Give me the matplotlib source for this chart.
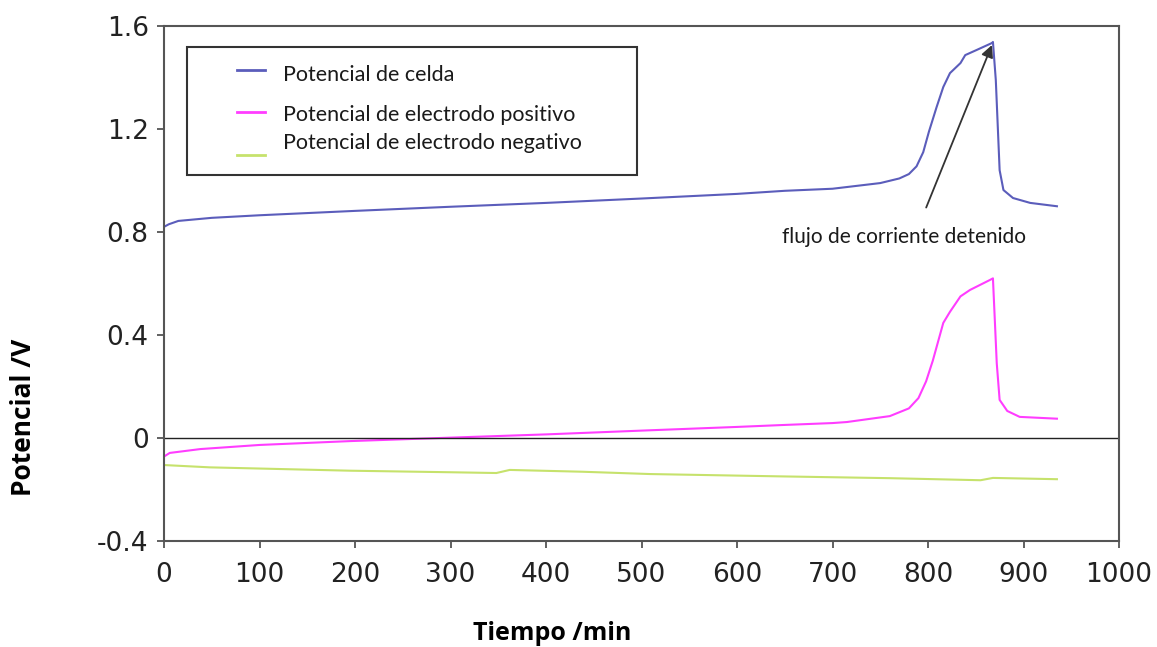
import matplotlib
matplotlib.use("Agg")
import matplotlib.pyplot as plt
from matplotlib.patches import Rectangle
from matplotlib.lines import Line2D

# time (min) and potentials (V)
t_cell = [0, 5, 15, 50, 100, 200, 300, 400, 500, 600, 650, 700, 750, 770, 780,
          788, 795, 801, 809, 816, 823, 834, 839, 851, 867, 868, 871, 875,
          879, 889, 907, 935]
v_cell = [0.82, 0.83, 0.843, 0.855, 0.865, 0.882, 0.898, 0.913, 0.93, 0.948,
          0.96, 0.968, 0.99, 1.008, 1.025, 1.055, 1.11, 1.19, 1.285, 1.363,
          1.417, 1.456, 1.487, 1.507, 1.534, 1.538, 1.39, 1.04, 0.963, 0.932,
          0.913, 0.90]

t_pos = [0, 6, 38, 100, 195, 289, 400, 509, 600, 645, 700, 715, 760, 780,
         790, 798, 805, 816, 823, 834, 844, 865, 868, 872, 875, 883, 896, 935]
v_pos = [-0.072, -0.058, -0.043, -0.027, -0.012, 0.0, 0.014, 0.03, 0.043,
         0.05, 0.058, 0.062, 0.085, 0.115, 0.155, 0.22, 0.30, 0.447, 0.49,
         0.55, 0.575, 0.614, 0.62, 0.29, 0.148, 0.105, 0.082, 0.075]

t_neg = [0, 48, 195, 300, 348, 362, 438, 509, 645, 760, 855, 868, 935]
v_neg = [-0.105, -0.114, -0.127, -0.133, -0.136, -0.124, -0.131, -0.14,
         -0.149, -0.156, -0.164, -0.155, -0.16]

labels = ["Potencial de celda", "Potencial de electrodo positivo",
          "Potencial de electrodo negativo"]
colors = ["#5b5dbb", "#ff3dff", "#c6e26c"]

x_ticks = list(range(0, 1001, 100))
y_ticks = [-0.4, 0, 0.4, 0.8, 1.2, 1.6]
y_ticklabels = ["-0.4", "0", "0.4", "0.8", "1.2", "1.6"]

W, H = 1157, 647
fig = plt.figure(figsize=(W / 100, H / 100), dpi=100)
L, R, T, B = 164, 1119, 26, 541
ax = fig.add_axes([L / W, 1 - B / H, (R - L) / W, (B - T) / H])

ax.plot(t_cell, v_cell, color=colors[0], lw=1.5)
ax.plot(t_pos, v_pos, color=colors[1], lw=1.5)
ax.plot(t_neg, v_neg, color=colors[2], lw=1.5)
ax.axhline(0, color="#222222", lw=1.0)

ax.set_xlim(0, 1000)
ax.set_ylim(-0.4, 1.6)
ax.set_xticks(x_ticks)
ax.set_yticks(y_ticks)
ax.set_yticklabels(y_ticklabels)
for s in ax.spines.values():
    s.set_color("#555555")
    s.set_linewidth(1.5)
ax.tick_params(axis="both", direction="out", length=5, width=1.3,
               color="#555555", labelsize=19, labelcolor="#222222")
ax.tick_params(axis="x", pad=10)
ax.tick_params(axis="y", pad=6)
for lab in ax.get_xticklabels() + ax.get_yticklabels():
    lab.set_fontfamily("DejaVu Sans")

# legend box drawn by hand to match the reference layout
def px(x, y):
    return ((x - L) / (R - L), (B - y) / (B - T))

x0, y0 = px(187, 175)
x1, y1 = px(637, 47)
ax.add_patch(Rectangle((x0, y0), x1 - x0, y1 - y0, transform=ax.transAxes,
                       facecolor="white", edgecolor="#333333", lw=1.5,
                       zorder=5))
for lab, col, ly, ty in zip(labels, colors, [70, 112, 155], [75, 115, 143]):
    a, b = px(237, ly)
    c, _ = px(265, ly)
    ax.add_line(Line2D([a, c], [b, b], transform=ax.transAxes, color=col,
                       lw=2, zorder=6))
    tx, tyy = px(283, ty)
    ax.text(tx, tyy, lab, transform=ax.transAxes, fontsize=15.5,
            family="Lato", color="#1a1a1a", va="center", ha="left", zorder=6)

ax.annotate("", xy=(868, 1.536), xytext=(797, 0.885),
            arrowprops=dict(arrowstyle="-|>", color="#333333", lw=1.3,
                            mutation_scale=18))
ax.text(775, 0.781, "flujo de corriente detenido", fontsize=15,
        family="Lato", color="#1a1a1a", ha="center", va="center")

fig.text(552 / W, 1 - 633 / H, "Tiempo /min", fontsize=18, fontweight="bold",
         family="Open Sans", ha="center", va="center")
fig.text(24 / W, 1 - 417 / H, "Potencial /V", fontsize=19, fontweight="bold",
         family="Open Sans", ha="center", va="center", rotation=90)

fig.savefig("out.png", dpi=100)
